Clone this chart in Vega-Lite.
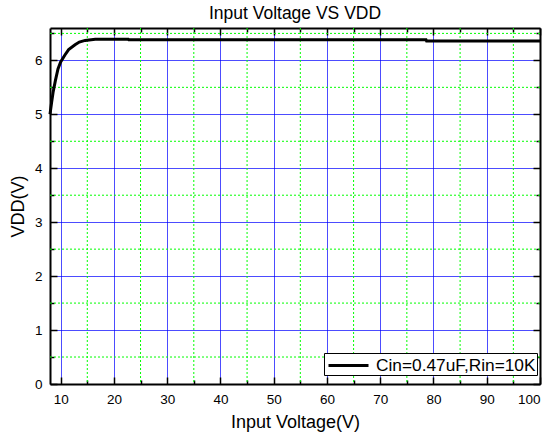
{
  "$schema": "https://vega.github.io/schema/vega-lite/v6.json",
  "width": 490,
  "height": 356,
  "autosize": "none",
  "padding": {"left": 50, "top": 28, "right": 14, "bottom": 51},
  "background": "white",
  "title": {"text": "Input Voltage VS VDD", "font": "Liberation Sans", "fontSize": 17.5, "fontWeight": "normal", "offset": 5, "color": "black"},
  "config": {"view": {"stroke": null}, "font": "Liberation Sans"},
  "datasets": {
    "curve": [
      {"vin": 8.0, "vdd": 5.0},
      {"vin": 8.3, "vdd": 5.22},
      {"vin": 8.6, "vdd": 5.42},
      {"vin": 9.0, "vdd": 5.62},
      {"vin": 9.5, "vdd": 5.84},
      {"vin": 10.0, "vdd": 5.97},
      {"vin": 10.8, "vdd": 6.10},
      {"vin": 11.5, "vdd": 6.20},
      {"vin": 12.7, "vdd": 6.29},
      {"vin": 13.5, "vdd": 6.34},
      {"vin": 14.6, "vdd": 6.37},
      {"vin": 16.5, "vdd": 6.39},
      {"vin": 22.7, "vdd": 6.39},
      {"vin": 22.8, "vdd": 6.38},
      {"vin": 78.6, "vdd": 6.38},
      {"vin": 78.7, "vdd": 6.36},
      {"vin": 100.0, "vdd": 6.36}
    ],
    "minorX": [{"gx": 15}, {"gx": 25}, {"gx": 35}, {"gx": 45}, {"gx": 55}, {"gx": 65}, {"gx": 75}, {"gx": 85}, {"gx": 95}],
    "minorY": [{"gy": 0.5}, {"gy": 1.5}, {"gy": 2.5}, {"gy": 3.5}, {"gy": 4.5}, {"gy": 5.5}, {"gy": 6.5}]
  },
  "layer": [
    {
      "data": {"name": "minorX"},
      "mark": {"type": "rule", "color": "#00ff00", "strokeDash": [2, 2], "strokeWidth": 1},
      "encoding": {"x": {"field": "gx", "type": "quantitative", "axis": null, "scale": {"domain": [8, 100], "nice": false, "zero": false}}}
    },
    {
      "data": {"name": "minorY"},
      "mark": {"type": "rule", "color": "#00ff00", "strokeDash": [2, 2], "strokeWidth": 1},
      "encoding": {"y": {"field": "gy", "type": "quantitative", "axis": null, "scale": {"domain": [0, 6.6], "nice": false}}}
    },
    {
      "data": {"name": "curve"},
      "mark": {"type": "line", "strokeWidth": 3, "interpolate": "linear"},
      "encoding": {
        "x": {"field": "vin", "type": "quantitative",
          "scale": {"domain": [8, 100], "nice": false, "zero": false},
          "axis": {"orient": "bottom", "title": "Input Voltage(V)",
            "values": [10, 15, 20, 25, 30, 35, 40, 45, 50, 55, 60, 65, 70, 75, 80, 85, 90, 95, 100],
            "labelExpr": "datum.value % 10 === 0 ? datum.label : ''",
            "grid": true, "gridColor": "#0000ff", "gridOpacity": {"condition": {"test": "datum.value % 10 === 0", "value": 0.7}, "value": 0}, "gridWidth": 1,
            "tickSize": {"condition": {"test": "datum.value % 10 === 0", "value": -7}, "value": -4},
            "tickColor": "black", "tickWidth": 1.5,
            "domainColor": "black", "domainWidth": 2,
            "labelFont": "Liberation Sans", "labelFontSize": 13.5, "labelColor": "black", "labelPadding": 15,
            "titleFont": "Liberation Sans", "titleFontSize": 18, "titleFontWeight": "normal", "titleColor": "black", "titlePadding": 8}},
        "y": {"field": "vdd", "type": "quantitative",
          "scale": {"domain": [0, 6.6], "nice": false},
          "axis": {"orient": "left", "title": "VDD(V)",
            "values": [0, 0.5, 1, 1.5, 2, 2.5, 3, 3.5, 4, 4.5, 5, 5.5, 6, 6.5],
            "labelExpr": "datum.value % 1 === 0 ? format(datum.value, 'd') : ''",
            "grid": true, "gridColor": "#0000ff", "gridOpacity": {"condition": {"test": "datum.value % 1 === 0", "value": 0.7}, "value": 0}, "gridWidth": 1,
            "tickSize": {"condition": {"test": "datum.value % 1 === 0", "value": -7}, "value": -4},
            "tickColor": "black", "tickWidth": 1.5,
            "domainColor": "black", "domainWidth": 2,
            "labelFont": "Liberation Sans", "labelFontSize": 13.5, "labelColor": "black", "labelPadding": 15,
            "titleFont": "Liberation Sans", "titleFontSize": 18, "titleFontWeight": "normal", "titleColor": "black", "titlePadding": 7}},
        "color": {"datum": "Cin=0.47uF,Rin=10K", "type": "nominal",
          "scale": {"range": ["black"]},
          "legend": {"title": null, "orient": "none", "legendX": 274, "legendY": 325,
            "symbolType": "M-2,0H2", "symbolSize": 400, "symbolStrokeWidth": 3, "symbolStrokeColor": "black", "symbolOffset": 12,
            "strokeColor": "black", "fillColor": "white", "padding": 1,
            "labelFont": "Liberation Sans", "labelFontSize": 17.3, "labelColor": "black", "labelOffset": 16, "labelLimit": 400}}
      }
    },
    {
      "data": {"name": "curve"},
      "mark": {"type": "line", "opacity": 0},
      "encoding": {
        "x": {"field": "vin", "type": "quantitative",
          "axis": {"orient": "top", "title": null, "labels": false, "grid": false,
            "values": [10, 15, 20, 25, 30, 35, 40, 45, 50, 55, 60, 65, 70, 75, 80, 85, 90, 95, 100],
            "tickSize": {"condition": {"test": "datum.value % 10 === 0", "value": -7}, "value": -4},
            "tickColor": "black", "tickWidth": 1.5,
            "domainColor": "black", "domainWidth": 2}},
        "y": {"field": "vdd", "type": "quantitative",
          "axis": {"orient": "right", "title": null, "labels": false, "grid": false,
            "values": [0, 0.5, 1, 1.5, 2, 2.5, 3, 3.5, 4, 4.5, 5, 5.5, 6, 6.5],
            "tickSize": {"condition": {"test": "datum.value % 1 === 0", "value": -7}, "value": -4},
            "tickColor": "black", "tickWidth": 1.5,
            "domainColor": "black", "domainWidth": 2}}
      }
    }
  ],
  "resolve": {"axis": {"x": "independent", "y": "independent"}}
}
